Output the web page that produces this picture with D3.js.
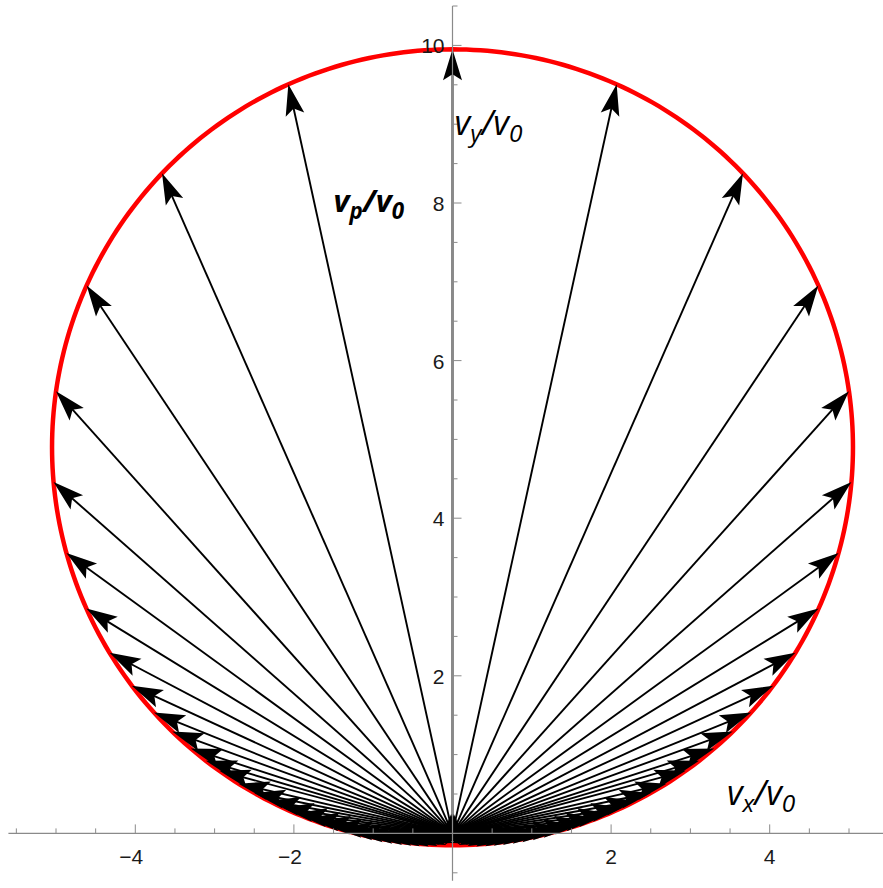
<!DOCTYPE html>
<html>
<head>
<meta charset="utf-8">
<script src="https://cdn.jsdelivr.net/npm/d3@7"></script>
<style>
  html, body { margin: 0; padding: 0; background: #fff; }
  svg { display: block; }
  .tick-label { font-family: "Liberation Sans", Arial, sans-serif; font-size: 21px; fill: #1a1a1a; }
  .axis-name { font-family: "Open Sans", "Liberation Sans", sans-serif; font-style: italic; fill: #000; }
</style>
</head>
<body>
<svg id="chart" width="883" height="888"></svg>
<script>
// Velocity circle (in units of v0): centre on the v_y axis
const circleCenter = [0, 4.9];
const circleRadius = 5.05;

// Arrow tips on the right half (v_x >= 0); the left half is the mirror image
const tipVx = [0, 2.070, 3.663, 4.613, 5.000, 5.031, 4.869, 4.617, 4.324, 4.044,
               3.765, 3.534, 3.300, 3.109, 2.940, 2.699, 2.502, 2.316, 2.142, 1.973,
               1.818, 1.678, 1.535, 1.400, 1.273, 1.153, 1.033, 0.920, 0.816, 0.703,
               0.598, 0.493, 0.396, 0.299, 0.194, 0.097];
const tipVy = [9.95, 9.506, 8.376, 6.954, 5.612, 4.460, 3.559, 2.854, 2.292, 1.875,
               1.534, 1.292, 1.077, 0.921, 0.794, 0.631, 0.514, 0.413, 0.327, 0.251,
               0.188, 0.137, 0.089, 0.048, 0.013, -0.017, -0.043, -0.066, -0.084, -0.101,
               -0.115, -0.126, -0.134, -0.141, -0.147, -0.149];

// Axis ticks
const xMajorTicks = [-4, -2, 2, 4];
const yMajorTicks = [2, 4, 6, 8, 10];
const xMinorTicks = [-5.5, -5, -4.5, -3.5, -3, -2.5, -1.5, -1, -0.5, 0.5, 1, 1.5, 2.5, 3, 3.5, 4.5, 5, 5.5];
const yMinorTicks = [-0.5, 0.5, 1, 1.5, 2.5, 3, 3.5, 4.5, 5, 5.5, 6.5, 7, 7.5, 8.5, 9, 9.5, 10.5];

const svg = d3.select("#chart");

const x = d3.scaleLinear().domain([-5.6, 5.6]).range([452.5 - 5.6 * 79.3, 452.5 + 5.6 * 79.3]);
const y = d3.scaleLinear().domain([-0.6, 10.5]).range([833.4 + 0.6 * 78.8, 833.4 - 10.5 * 78.8]);

// Red circle
const circ = d3.range(0, 361, 1).map(a => {
  const t = a * Math.PI / 180;
  return [circleCenter[0] + circleRadius * Math.sin(t), circleCenter[1] + circleRadius * Math.cos(t)];
});
svg.append("path")
  .attr("d", d3.line().x(d => x(d[0])).y(d => y(d[1]))(circ))
  .attr("fill", "none")
  .attr("stroke", "#ff0000")
  .attr("stroke-width", 4.5);

// Arrows from the origin to every tip
const tips = [];
tipVx.forEach((vx, i) => {
  tips.push([vx, tipVy[i]]);
  if (vx !== 0) tips.push([-vx, tipVy[i]]);
});

const arrows = svg.append("g");
const headLen = 31, headHalf = 9.5;
tips.forEach(([vx, vy]) => {
  const x0 = x(0), y0 = y(0), x1 = x(vx), y1 = y(vy);
  const dx = x1 - x0, dy = y1 - y0;
  const len = Math.hypot(dx, dy);
  const ux = dx / len, uy = dy / len;
  const px = -uy, py = ux;
  const bx = x1 - ux * headLen, by = y1 - uy * headLen;
  const nx = x1 - ux * headLen * 0.8, ny = y1 - uy * headLen * 0.8;
  arrows.append("line")
    .attr("x1", x0).attr("y1", y0)
    .attr("x2", x1 - ux * headLen * 0.5).attr("y2", y1 - uy * headLen * 0.5)
    .attr("stroke", "#000").attr("stroke-width", 1.9);
  arrows.append("path")
    .attr("d", `M${x1},${y1}L${bx + px * headHalf},${by + py * headHalf}L${nx},${ny}L${bx - px * headHalf},${by - py * headHalf}Z`)
    .attr("fill", "#000");
});

// Axes on top
const axisColor = "#8a8a8a";
const ax = svg.append("g");
ax.append("line").attr("x1", x(-5.6)).attr("x2", 883).attr("y1", y(0)).attr("y2", y(0))
  .attr("stroke", axisColor).attr("stroke-width", 1.2);
ax.append("line").attr("x1", x(0)).attr("x2", x(0)).attr("y1", y(-0.6)).attr("y2", y(10.5))
  .attr("stroke", axisColor).attr("stroke-width", 1.2);

xMajorTicks.forEach(v => {
  ax.append("line").attr("x1", x(v)).attr("x2", x(v)).attr("y1", y(0)).attr("y2", y(0) - 9)
    .attr("stroke", axisColor).attr("stroke-width", 1);
  ax.append("text").attr("class", "tick-label").attr("x", x(v) - (v < 0 ? 4 : 0)).attr("y", y(0) + 31)
    .attr("text-anchor", "middle").text(v < 0 ? "\u2212" + Math.abs(v) : String(v));
});
xMinorTicks.forEach(v => {
  ax.append("line").attr("x1", x(v)).attr("x2", x(v)).attr("y1", y(0)).attr("y2", y(0) - 5)
    .attr("stroke", axisColor).attr("stroke-width", 1);
});
yMajorTicks.forEach(v => {
  ax.append("line").attr("x1", x(0)).attr("x2", x(0) + 9).attr("y1", y(v)).attr("y2", y(v))
    .attr("stroke", axisColor).attr("stroke-width", 1);
  ax.append("text").attr("class", "tick-label").attr("x", x(0) - 8).attr("y", y(v) + 8)
    .attr("text-anchor", "end").text(String(v));
});
yMinorTicks.forEach(v => {
  ax.append("line").attr("x1", x(0)).attr("x2", x(0) + 5).attr("y1", y(v)).attr("y2", y(v))
    .attr("stroke", axisColor).attr("stroke-width", 1);
});

// Axis names
function velocityLabel(px, py, sub, size, bold) {
  const t = svg.append("text").attr("class", "axis-name")
    .attr("x", px).attr("y", py).attr("font-size", size)
    .attr("font-weight", bold ? "bold" : "normal");
  t.append("tspan").text("v");
  t.append("tspan").attr("font-size", size * 0.72).attr("dy", size * 0.2).text(sub);
  t.append("tspan").attr("dy", -size * 0.2).text("/v");
  t.append("tspan").attr("font-size", size * 0.72).attr("dy", size * 0.2).text("0");
}
velocityLabel(x(0) + 2, y(8.86), "y", 34, false);
velocityLabel(x(3.46), y(0.36), "x", 34, false);
velocityLabel(x(-1.5), y(7.88), "p", 31, true);
</script>
</body>
</html>
